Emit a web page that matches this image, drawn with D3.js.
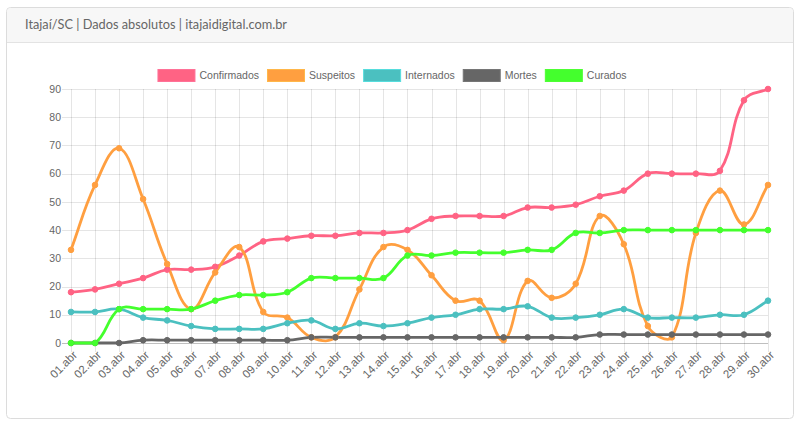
<!DOCTYPE html>
<html>
<head>
<meta charset="utf-8">
<script src="https://cdn.jsdelivr.net/npm/d3@7"></script>
<style>
  html, body { margin: 0; padding: 0; background: #fff; }
  svg { display: block; }
</style>
</head>
<body>
<svg id="chart" width="800" height="424"></svg>
<script>
const title = "Itajaí/SC | Dados absolutos | itajaidigital.com.br";
const categories = ["01.abr","02.abr","03.abr","04.abr","05.abr","06.abr","07.abr","08.abr","09.abr","10.abr",
  "11.abr","12.abr","13.abr","14.abr","15.abr","16.abr","17.abr","18.abr","19.abr","20.abr",
  "21.abr","22.abr","23.abr","24.abr","25.abr","26.abr","27.abr","28.abr","29.abr","30.abr"];
const confirmados = [18,19,21,23,26,26,27,31,36,37,38,38,39,39,40,44,45,45,45,48,48,49,52,54,60,60,60,61,86,90];
const suspeitos   = [33,56,69,51,28,12,25,34,11,9,2,2,19,34,33,24,15,15,1,22,16,21,45,35,6,2,39,54,42,56];
const internados  = [11,11,12,9,8,6,5,5,5,7,8,5,7,6,7,9,10,12,12,13,9,9,10,12,9,9,9,10,10,15];
const mortes      = [0,0,0,1,1,1,1,1,1,1,2,2,2,2,2,2,2,2,2,2,2,2,3,3,3,3,3,3,3,3];
const curados     = [0,0,12,12,12,12,15,17,17,18,23,23,23,23,31,31,32,32,32,33,33,39,39,40,40,40,40,40,40,40];
const yTicks = [0,10,20,30,40,50,60,70,80,90];

const series = [
  {name: "Confirmados", values: confirmados, color: "#ff6384"},
  {name: "Suspeitos",   values: suspeitos,   color: "#ff9f40"},
  {name: "Internados",  values: internados,  color: "#4bc0c0"},
  {name: "Mortes",      values: mortes,      color: "#666666"},
  {name: "Curados",     values: curados,     color: "#44ff2d"}
];

const svg = d3.select("#chart");
const font = "'Liberation Sans', Arial, Helvetica, sans-serif";
const fs = 10.5;

// Card
svg.append("rect").attr("x", 6.5).attr("y", 7.5).attr("width", 787).attr("height", 411)
  .attr("rx", 4).attr("fill", "#fff").attr("stroke", "#dcdcdc");
svg.append("path").attr("d", "M7,42 L7,12 Q7,8 11,8 L789,8 Q793,8 793,12 L793,42 Z")
  .attr("fill", "#f7f7f7");
svg.append("line").attr("x1", 7).attr("x2", 793).attr("y1", 42.5).attr("y2", 42.5)
  .attr("stroke", "#e3e3e3");
svg.append("text").attr("x", 25).attr("y", 29).text(title)
  .attr("font-family", "Lato, 'Open Sans', sans-serif").attr("font-size", 13)
  .attr("fill", "#666").attr("textLength", 262).attr("lengthAdjust", "spacingAndGlyphs");

// Scales
const pLeft = 71, pRight = 768, pTop = 89, pBottom = 343;
const x = d3.scalePoint().domain(categories).range([pLeft, pRight]);
const y = d3.scaleLinear().domain([0, 90]).range([pBottom, pTop]);

const grid = svg.append("g");
grid.selectAll("line.h").data(yTicks).join("line")
  .attr("x1", pLeft - 9).attr("x2", pRight)
  .attr("y1", d => Math.round(y(d)) + 0.5).attr("y2", d => Math.round(y(d)) + 0.5)
  .attr("stroke", d => d === 0 ? "rgba(0,0,0,0.25)" : "rgba(0,0,0,0.1)");
grid.selectAll("line.v").data(categories).join("line")
  .attr("x1", d => Math.round(x(d)) + 0.5).attr("x2", d => Math.round(x(d)) + 0.5)
  .attr("y1", pTop).attr("y2", pBottom + 9)
  .attr("stroke", "rgba(0,0,0,0.1)");

// y labels
svg.append("g").selectAll("text").data(yTicks).join("text")
  .attr("x", 61).attr("y", d => y(d)).attr("dy", "0.35em")
  .attr("text-anchor", "end").attr("font-family", font).attr("font-size", fs)
  .attr("fill", "#666").text(d => d);

// x labels
svg.append("g").selectAll("text").data(categories).join("text")
  .attr("transform", d => `translate(${x(d) + 4},${pBottom + 10}) rotate(-45)`)
  .attr("dy", "0.35em")
  .attr("text-anchor", "end").attr("font-family", font).attr("font-size", 11.5)
  .attr("fill", "#666").text(d => d);

// Chart.js-like spline
function splinePath(pts, t) {
  const n = pts.length;
  const capY = v => Math.max(pTop, Math.min(pBottom, v));
  const capX = v => Math.max(pLeft, Math.min(pRight, v));
  const cps = pts.map((p, i) => {
    const prev = pts[i - 1] || p, next = pts[i + 1] || p;
    const d01 = Math.hypot(p[0] - prev[0], p[1] - prev[1]);
    const d12 = Math.hypot(next[0] - p[0], next[1] - p[1]);
    let s01 = d01 / (d01 + d12), s12 = d12 / (d01 + d12);
    if (isNaN(s01)) s01 = 0; if (isNaN(s12)) s12 = 0;
    const fa = t * s01, fb = t * s12;
    return {
      p: [capX(p[0] - fa * (next[0] - prev[0])), capY(p[1] - fa * (next[1] - prev[1]))],
      n: [capX(p[0] + fb * (next[0] - prev[0])), capY(p[1] + fb * (next[1] - prev[1]))]
    };
  });
  const path = d3.path();
  path.moveTo(pts[0][0], pts[0][1]);
  for (let i = 1; i < n; i++) {
    path.bezierCurveTo(cps[i - 1].n[0], cps[i - 1].n[1], cps[i].p[0], cps[i].p[1], pts[i][0], pts[i][1]);
  }
  return path.toString();
}

const plot = svg.append("g");
series.forEach(s => {
  const pts = s.values.map((v, i) => [x(categories[i]), y(v)]);
  plot.append("path").attr("d", splinePath(pts, 0.4))
    .attr("fill", "none").attr("stroke", s.color).attr("stroke-width", 2.8);
});
series.forEach(s => {
  plot.append("g").selectAll("circle").data(s.values).join("circle")
    .attr("cx", (v, i) => x(categories[i])).attr("cy", v => y(v)).attr("r", 2.8)
    .attr("fill", s.color).attr("stroke", s.color).attr("stroke-width", 1);
});

// Legend
const legend = svg.append("g");
const items = [];
series.forEach(s => {
  const g = legend.append("g");
  g.append("rect").attr("x", 0.5).attr("y", 0.5).attr("width", 37).attr("height", 12)
    .attr("fill", s.color).attr("stroke", d3.color(s.color).brighter(0.4)).attr("stroke-width", 1);
  const t = g.append("text").attr("x", 42).attr("y", 6.5).attr("dy", "0.35em")
    .attr("font-family", font).attr("font-size", fs).attr("fill", "#666").text(s.name);
  const w = 42 + t.node().getComputedTextLength();
  items.push({g, w});
});
const total = d3.sum(items, d => d.w) + 8 * (items.length - 1);
let lx = 392 - total / 2;
items.forEach(it => {
  it.g.attr("transform", `translate(${lx},69)`);
  lx += it.w + 8;
});
</script>
</body>
</html>
